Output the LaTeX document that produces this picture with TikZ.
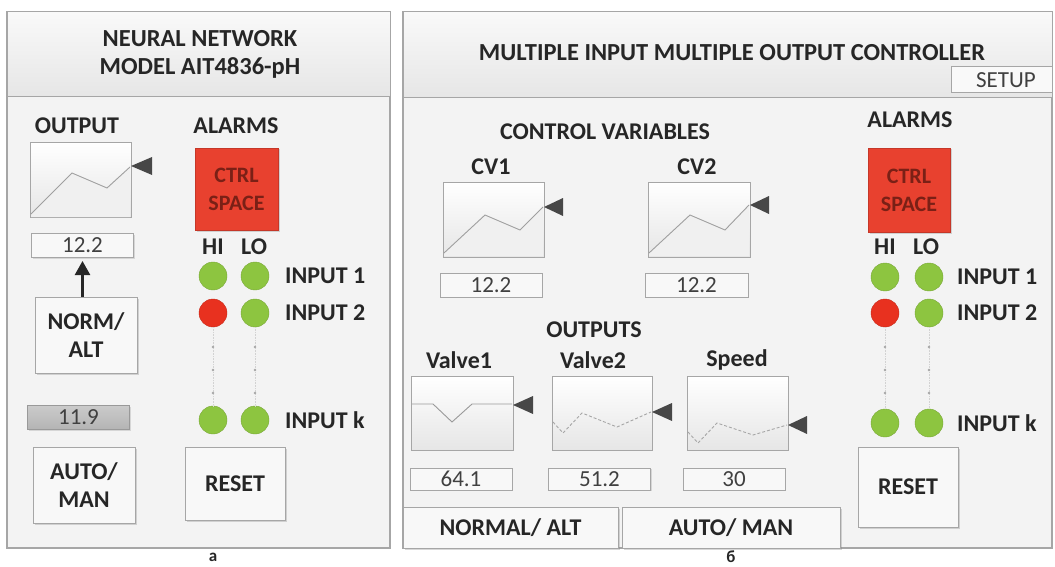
\documentclass[tikz,border=0pt]{standalone}
\usepackage{fontspec}
\setmainfont{Carlito}
\usetikzlibrary{arrows.meta,shadows}
\definecolor{panelbg}{HTML}{F3F3F3}
\definecolor{hdrtop}{HTML}{F9F9F9}
\definecolor{hdrbot}{HTML}{E6E6E6}
\definecolor{frame}{HTML}{A6A6A6}
\definecolor{ctrlred}{HTML}{E8412F}
\definecolor{ctrltext}{HTML}{7A2016}
\definecolor{ledgreen}{HTML}{8DC540}
\definecolor{ledred}{HTML}{E8311F}
\definecolor{txt}{HTML}{262626}
\definecolor{valtxt}{HTML}{404040}
\definecolor{tri}{HTML}{474747}
\definecolor{btnbg}{HTML}{F8F8F8}
\definecolor{greybox}{HTML}{B4B4B4}
\tikzset{
  panel/.style={draw=frame, line width=1.2pt, fill=panelbg},
  hdr/.style={draw=frame, line width=1pt, top color=hdrtop, bottom color=hdrbot},
  lbl/.style={font=\fontsize{24}{28}\selectfont\bfseries, text=txt, inner sep=0pt, align=center},
  ttl/.style={lbl, font=\fontsize{24.5}{28}\selectfont\bfseries},
  inlbl/.style={lbl, anchor=west},
  chart/.style={draw=frame, line width=1pt, top color=white, bottom color=hdrbot, minimum width=101pt, minimum height=75pt, inner sep=0pt},
  val/.style={draw=frame, line width=1pt, fill=btnbg, minimum height=24pt, minimum width=102pt, inner sep=0pt, font=\fontsize{23}{24}\selectfont, text=valtxt, drop shadow={shadow xshift=1pt, shadow yshift=-1pt, opacity=.25}},
  btn/.style={lbl, draw=frame, line width=1pt, fill=btnbg, drop shadow={shadow xshift=1.5pt, shadow yshift=-1.5pt, opacity=.3}},
  alarm/.style={fill=ctrlred, draw=ctrlred!85!black, line width=.6pt, text=ctrltext, font=\fontsize{22}{28}\selectfont\bfseries, align=center, inner sep=0pt, drop shadow={shadow xshift=1.5pt, shadow yshift=-1.5pt, opacity=.3}},
  led/.style={circle, minimum size=28pt, inner sep=0pt, fill=ledgreen, draw=ledgreen!85!black, line width=.4pt},
  ledr/.style={led, fill=ledred, draw=ledred!85!black},
  trend/.style={draw=gray!75, line width=.9pt},
  shade/.style={fill=gray!12},
  marker/.style={fill=tri},
  ldot/.style={fill=gray!70},
  sublbl/.style={font=\fontsize{17}{18}\selectfont\bfseries, text=txt, inner sep=0pt},
}
\begin{document}
\begin{tikzpicture}[x=1pt,y=-1pt]
\useasboundingbox (0,0) rectangle (1055,567);
\fill[white] (0,0) rectangle (1055,567);

% ===================== panel a =====================
\node[panel, minimum width=383pt, minimum height=536pt, inner sep=0pt] (pa) at (198.5,280) {};
\node[hdr, minimum width=383pt, minimum height=85pt, inner sep=0pt] (ha) at (198.5,54.5) {};
\node[ttl] (ta) at (200,54) {NEURAL NETWORK\\MODEL AIT4836-pH};

\node[lbl] (outl) at (77,126) {OUTPUT};
\node[chart] (co) at (80.5,180) {};
\fill[shade] (31,214) -- (72,173) -- (107,188) -- (130,167) -- (130,217) -- (31,217) -- cycle;
\draw[trend] (31,214) -- (72,173) -- (107,188) -- (130,167);
\fill[marker] (131,166) -- (152,157) -- (152,175) -- cycle;
\node[val] (v0) at (82.5,245.5) {12.2};
\node[btn, minimum width=102pt, minimum height=76pt] (na) at (86,335) {NORM/\\ALT};
\draw[line width=2.4pt, draw=txt, -{Triangle[width=15pt,length=14pt]}, shorten >=3pt] (na.north -| v0.south) -- (v0.south);
\node[val, top color=greybox!70, bottom color=greybox, draw=gray!80] (v9) at (78.5,417.5) {11.9};
\node[btn, minimum width=102pt, minimum height=76pt] (am) at (84,485) {AUTO/\\MAN};

\node[lbl] (ala) at (236,126) {ALARMS};
\node[alarm, minimum width=83pt, minimum height=82pt] (csa) at (236.5,189) {CTRL\\SPACE};
\node[lbl] (hia) at (213,247) {HI};
\node[lbl] (loa) at (254,247) {LO};
\node[led] (a11) at (213,276) {};
\node[led] (a12) at (255,276) {};
\node[ledr] (a21) at (213,313) {};
\node[led] (a22) at (255,313) {};
\node[led] (ak1) at (213,420) {};
\node[led] (ak2) at (255,420) {};
\node[inlbl] (ia1) at (285,276) {INPUT 1};
\node[inlbl] (ia2) at (285,313) {INPUT 2};
\node[inlbl] (iak) at (285,420) {INPUT k};
\draw[gray!35, densely dotted, line width=.6pt] (a21.south) -- (ak1.north);
\draw[gray!35, densely dotted, line width=.6pt] (a22.south) -- (ak2.north);
\foreach \yy in {347,370,393} {
  \fill[ldot] (213,\yy) circle (1.3pt);
  \fill[ldot] (255,\yy) circle (1.3pt);
}
\node[btn, minimum width=100pt, minimum height=73pt] (rsa) at (235,483.5) {RESET};
\node[sublbl] (la) at (213,557) {a};

% ===================== panel b =====================
\node[panel, minimum width=649pt, minimum height=536pt, inner sep=0pt] (pb) at (727.5,280) {};
\node[hdr, minimum width=649pt, minimum height=86pt, inner sep=0pt] (hb) at (727.5,55) {};
\node[ttl] (tb) at (732,53) {MULTIPLE INPUT MULTIPLE OUTPUT CONTROLLER};
\node[draw=frame, line width=1pt, fill=hdrtop, minimum width=101pt, minimum height=26pt, inner sep=0pt] (sb) at (1001.5,80) {};
\node[font=\fontsize{23}{24}\selectfont, text=valtxt, inner sep=0pt] (st) at (1006,80) {SETUP};

\node[lbl] (cvl) at (605,132) {CONTROL VARIABLES};
\node[lbl] (cv1l) at (491,167) {CV1};
\node[lbl] (cv2l) at (697,167) {CV2};
\node[chart] (cv1) at (493.5,219.5) {};
\fill[shade] (444,253) -- (485,215) -- (520,230) -- (543,207) -- (543,256) -- (444,256) -- cycle;
\draw[trend] (444,253) -- (485,215) -- (520,230) -- (543,207);
\fill[marker] (544,207) -- (563,198) -- (563,216) -- cycle;
\node[chart, minimum width=102pt] (cv2) at (699,219.5) {};
\fill[shade] (649,253) -- (690,215) -- (725,230) -- (749,205) -- (749,256) -- (649,256) -- cycle;
\draw[trend] (649,253) -- (690,215) -- (725,230) -- (749,205);
\fill[marker] (750,205) -- (769,196) -- (769,214) -- cycle;
\node[val] (vc1) at (491,285) {12.2};
\node[val, minimum width=103pt] (vc2) at (696.5,285) {12.2};

\node[lbl] (outs) at (594,330) {OUTPUTS};
\node[lbl] (v1l) at (459,360) {Valve1};
\node[lbl] (v2l) at (593,360) {Valve2};
\node[lbl] (spl) at (737,360) {Speed};
\node[chart, minimum width=102pt, minimum height=74pt] (ch1) at (462,413) {};
\draw[trend, gray!80] (412,404) -- (433,404) -- (452,422) -- (472,404) -- (512,404);
\fill[marker] (513,405) -- (533,396) -- (533,414) -- cycle;
\node[chart, minimum width=100pt, minimum height=74pt] (ch2) at (602,413) {};
\draw[trend, densely dashed, gray!70] (553,422) -- (563,433) -- (582,413) -- (617,427) -- (651,412);
\fill[marker] (652,412) -- (672,403) -- (672,421) -- cycle;
\node[chart, minimum width=101pt, minimum height=74pt] (ch3) at (737.5,413) {};
\draw[trend, densely dashed, gray!70] (688,432) -- (698,443) -- (717,423) -- (753,435) -- (787,425);
\fill[marker] (788,425) -- (807,416) -- (807,434) -- cycle;
\node[val, minimum height=22pt] (o1) at (461,479) {64.1};
\node[val, minimum height=22pt] (o2) at (599.5,479) {51.2};
\node[val, minimum height=22pt] (o3) at (734,479) {30};

\node[btn, minimum width=215pt, minimum height=41pt] (bna) at (510.5,527.5) {NORMAL/ ALT};
\node[btn, minimum width=218pt, minimum height=41pt] (bam) at (731,527.5) {AUTO/ MAN};

\node[lbl] (alb) at (910,120) {ALARMS};
\node[alarm, minimum width=82pt, minimum height=84pt] (csb) at (909,190) {CTRL\\SPACE};
\node[lbl] (hib) at (885,247) {HI};
\node[lbl] (lob) at (926,247) {LO};
\node[led] (b11) at (885,277) {};
\node[led] (b12) at (929,277) {};
\node[ledr] (b21) at (885,313) {};
\node[led] (b22) at (929,313) {};
\node[led] (bk1) at (885,423) {};
\node[led] (bk2) at (929,423) {};
\node[inlbl] (ib1) at (957,277) {INPUT 1};
\node[inlbl] (ib2) at (957,313) {INPUT 2};
\node[inlbl] (ibk) at (957,423) {INPUT k};
\draw[gray!35, densely dotted, line width=.6pt] (b21.south) -- (bk1.north);
\draw[gray!35, densely dotted, line width=.6pt] (b22.south) -- (bk2.north);
\foreach \yy in {347,370,393} {
  \fill[ldot] (885,\yy) circle (1.3pt);
  \fill[ldot] (929,\yy) circle (1.3pt);
}
\node[btn, minimum width=100pt, minimum height=80pt] (rsb) at (908,487) {RESET};
\node[sublbl] (lb) at (731,557) {б};
\end{tikzpicture}
\end{document}
